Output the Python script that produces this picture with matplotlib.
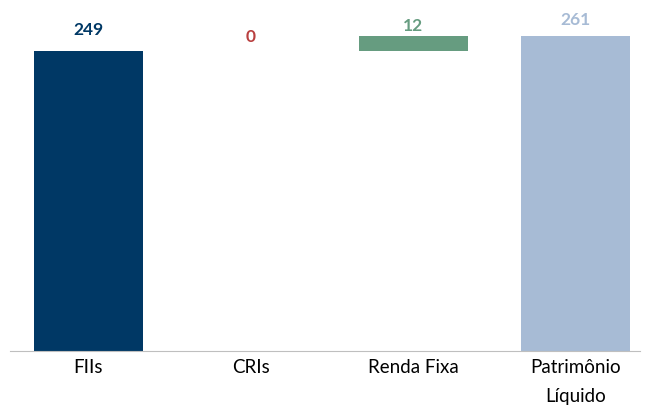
import matplotlib.pyplot as plt

categories = ["FIIs", "CRIs", "Renda Fixa", "Patrimônio\nLíquido"]
values = [249, 0, 12, 261]
bases = [0, 249, 249, 0]
labels = ["249", "0", "12", "261"]

colors = ["#003865", "#B94040", "#669C80", "#A7BBD5"]
label_offsets = [16, 10.5, 8, 12.5]  # points above the bar top

plt.rcParams['font.family'] = ['Lato', 'DejaVu Sans']

fig = plt.figure(figsize=(6.49, 4.10), dpi=100)
ax = fig.add_axes([10 / 649, 58 / 410, 630 / 649, 352 / 410])

x = range(len(categories))
ax.bar(x, values, bottom=bases, width=0.67, color=colors)

for i in x:
    top = bases[i] + values[i]
    ax.annotate(labels[i], (i, top), xytext=(0, label_offsets[i]),
                textcoords="offset points", ha="center", va="center",
                fontsize=12.5, fontweight="bold", color=colors[i])

ax.set_xlim(-0.483, 3.397)
ax.set_ylim(0, 292)
ax.set_xticks(list(x))
ax.set_xticklabels(categories, fontsize=13.5, linespacing=1.85)
ax.tick_params(axis="x", length=0, pad=5)
ax.set_yticks([])

for side in ["top", "right", "left"]:
    ax.spines[side].set_visible(False)
ax.spines["bottom"].set_color("#BFBFBF")

fig.savefig("out.png", dpi=100)
